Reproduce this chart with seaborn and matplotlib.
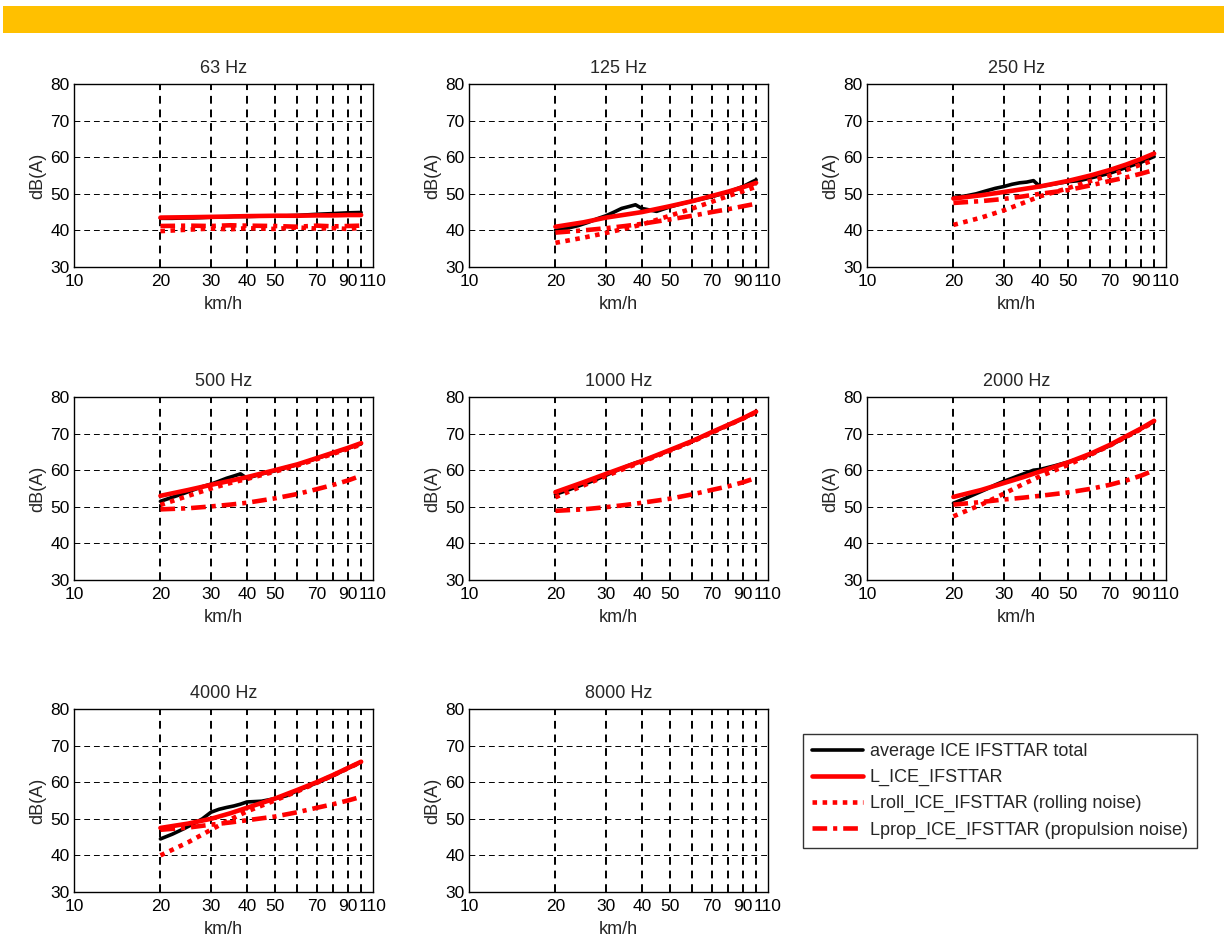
import numpy as np
import pandas as pd
import matplotlib
matplotlib.use("Agg")
import matplotlib.pyplot as plt
from matplotlib.patches import Rectangle
from matplotlib.ticker import FixedLocator, NullFormatter
import seaborn as sns

# ---------------- data ----------------
freq_labels = ["63 Hz", "125 Hz", "250 Hz", "500 Hz", "1000 Hz", "2000 Hz", "4000 Hz", "8000 Hz"]

speeds_model = [20, 25, 30, 35, 40, 50, 60, 70, 80, 90, 100]
speeds_meas = [20, 22, 24, 26, 28, 30, 32, 34, 36, 38, 40, 45, 50, 55, 60, 70, 80, 90, 100]

series_names = ["average ICE IFSTTAR total", "L_ICE_IFSTTAR",
                "Lroll_ICE_IFSTTAR (rolling noise)", "Lprop_ICE_IFSTTAR (propulsion noise)"]

meas_63 = [43.3, 43.3, 43.4, 43.4, 43.5, 43.6, 43.7, 43.7, 43.8, 43.8, 43.8, 43.9, 44.0, 44.0, 44.1, 44.4, 44.6, 44.8, 44.9]
L_63 = [43.5, 43.6, 43.7, 43.8, 43.9, 44.0, 44.0, 44.1, 44.1, 44.2, 44.2]
roll_63 = [39.8, 40.2, 40.5, 40.3, 40.6, 40.4, 40.8, 40.5, 40.6, 40.4, 40.7]
prop_63 = [41.2, 41.3, 41.2, 41.4, 41.3, 41.2, 41.0, 41.3, 41.1, 41.2, 41.3]

meas_125 = [40.0, 40.6, 41.3, 42.2, 43.2, 44.0, 45.0, 46.0, 46.5, 47.0, 46.0, 45.2, 46.4, 47.3, 48.0, 49.2, 50.5, 52.0, 53.8]
L_125 = [41.0, 42.2, 43.5, 44.3, 45.0, 46.6, 48.0, 49.4, 50.6, 51.8, 53.0]
roll_125 = [36.6, 38.0, 39.3, 40.5, 41.6, 44.0, 46.0, 47.8, 49.4, 50.7, 51.9]
prop_125 = [39.4, 40.0, 40.6, 41.2, 41.8, 43.0, 44.0, 45.0, 45.8, 46.6, 47.3]

meas_250 = [49.0, 49.4, 50.0, 50.8, 51.5, 52.0, 52.6, 53.0, 53.2, 53.6, 52.0, 52.7, 53.3, 53.6, 54.3, 55.6, 57.2, 58.6, 60.2]
L_250 = [48.7, 49.6, 50.5, 51.3, 52.0, 53.5, 55.0, 56.5, 58.0, 59.5, 61.0]
roll_250 = [41.5, 43.5, 45.5, 47.5, 49.3, 51.5, 53.5, 55.0, 56.5, 58.0, 59.2]
prop_250 = [47.5, 48.0, 48.6, 49.3, 50.0, 51.0, 52.3, 53.5, 54.5, 55.5, 56.5]

meas_500 = [51.5, 52.6, 53.6, 54.6, 55.5, 56.2, 57.0, 57.8, 58.4, 59.0, 57.8, 59.0, 59.8, 60.8, 61.5, 63.2, 64.7, 66.0, 67.2]
L_500 = [53.0, 54.6, 56.0, 57.1, 58.1, 60.0, 61.6, 63.3, 64.8, 66.1, 67.4]
roll_500 = [50.5, 53.0, 55.0, 56.5, 57.6, 59.6, 61.3, 63.0, 64.5, 65.8, 67.0]
prop_500 = [49.3, 49.6, 50.1, 50.6, 51.1, 52.3, 53.5, 54.8, 56.0, 57.2, 58.5]

meas_1000 = [53.4, 54.5, 55.6, 56.6, 57.6, 58.6, 59.6, 60.5, 61.3, 62.0, 62.5, 64.0, 65.4, 66.7, 67.9, 70.3, 72.3, 74.1, 75.9]
L_1000 = [54.0, 56.7, 59.0, 60.9, 62.5, 65.5, 68.0, 70.4, 72.4, 74.2, 76.0]
roll_1000 = [52.6, 55.8, 58.4, 60.5, 62.2, 65.3, 67.8, 70.2, 72.3, 74.1, 75.8]
prop_1000 = [48.9, 49.3, 49.9, 50.5, 51.1, 52.2, 53.4, 54.6, 55.6, 56.7, 57.9]

meas_2000 = [51.0, 52.3, 53.6, 54.8, 56.0, 57.0, 57.8, 58.6, 59.3, 60.0, 60.2, 61.2, 62.2, 63.2, 64.3, 66.7, 69.1, 71.3, 73.3]
L_2000 = [52.7, 54.6, 56.5, 58.1, 59.6, 62.1, 64.5, 66.9, 69.3, 71.4, 73.5]
roll_2000 = [47.4, 50.6, 53.6, 56.2, 58.3, 61.4, 64.2, 66.7, 69.1, 71.2, 73.2]
prop_2000 = [50.6, 51.3, 52.0, 52.5, 53.0, 53.9, 54.9, 56.0, 57.2, 58.5, 60.0]

meas_4000 = [44.5, 45.8, 47.2, 48.6, 50.0, 51.8, 52.6, 53.1, 53.5, 54.0, 54.6, 54.8, 55.5, 56.3, 57.7, 59.8, 61.8, 63.8, 65.5]
L_4000 = [47.5, 48.7, 50.0, 51.5, 53.0, 55.5, 57.9, 60.0, 62.0, 63.9, 65.6]
roll_4000 = [40.0, 43.6, 47.0, 49.8, 52.0, 55.0, 57.5, 59.8, 61.9, 63.8, 65.5]
prop_4000 = [47.0, 47.6, 48.4, 49.0, 49.6, 50.6, 51.8, 53.0, 54.0, 55.0, 56.0]

meas_8000 = []
L_8000 = []
roll_8000 = []
prop_8000 = []

panels = [
    (meas_63, L_63, roll_63, prop_63),
    (meas_125, L_125, roll_125, prop_125),
    (meas_250, L_250, roll_250, prop_250),
    (meas_500, L_500, roll_500, prop_500),
    (meas_1000, L_1000, roll_1000, prop_1000),
    (meas_2000, L_2000, roll_2000, prop_2000),
    (meas_4000, L_4000, roll_4000, prop_4000),
    (meas_8000, L_8000, roll_8000, prop_8000),
]

xtick_values = [10, 20, 30, 40, 50, 70, 90, 110]
xgrid_values = [20, 30, 40, 50, 60, 70, 80, 90, 100]
ytick_values = [30, 40, 50, 60, 70, 80]

# ---------------- style ----------------
sns.set_style("white")
plt.rcParams["font.family"] = ["Liberation Sans", "DejaVu Sans"]

FS = 13
TICK_FS = 12.5

W, H = 1224, 940
fig = plt.figure(figsize=(W / 100, H / 100), dpi=100)

# orange banner
fig.add_artist(Rectangle((3 / W, 1 - 33 / H), 1 - 3 / W, 27 / H,
                         transform=fig.transFigure, facecolor="#FFC000",
                         edgecolor="none"))

col_left = [74, 469, 867]
col_width = 299
row_top = [84, 397, 709]
row_height = 183

styles = [
    dict(color="black", lw=2.6, linestyle="-"),
    dict(color="#FF0000", lw=3.3, linestyle="-"),
    dict(color="#FF0000", lw=3.3, linestyle=(0, (1.0, 1.2))),
    dict(color="#FF0000", lw=3.3, linestyle=(0, (3.2, 1.3, 0.9, 1.3))),
]

handles = None
for i, (title, data) in enumerate(zip(freq_labels, panels)):
    r, c = divmod(i, 3)
    left = col_left[c] / W
    bottom = 1 - (row_top[r] + row_height) / H
    ax = fig.add_axes([left, bottom, col_width / W, row_height / H])

    meas, L, roll, prop = data
    if len(meas):
        sns.lineplot(x=speeds_meas, y=meas, ax=ax, label=series_names[0], **styles[0])
        sns.lineplot(x=speeds_model, y=roll, ax=ax, label=series_names[2], **styles[2])
        sns.lineplot(x=speeds_model, y=prop, ax=ax, label=series_names[3], **styles[3])
        sns.lineplot(x=speeds_model, y=L, ax=ax, label=series_names[1], **styles[1])
        h, l = ax.get_legend_handles_labels()
        if handles is None:
            order = [l.index(n) for n in series_names]
            handles = [h[k] for k in order]
        if ax.get_legend() is not None:
            ax.get_legend().remove()

    ax.set_xscale("log")
    ax.set_xlim(10, 110)
    ax.set_ylim(30, 80)
    ax.xaxis.remove_overlapping_locs = False
    ax.xaxis.set_major_locator(FixedLocator(xtick_values))
    ax.set_xticklabels([str(v) for v in xtick_values])
    ax.xaxis.set_minor_locator(FixedLocator(xgrid_values))
    ax.xaxis.set_minor_formatter(NullFormatter())
    ax.set_yticks(ytick_values)
    ax.tick_params(axis="both", which="major", direction="in", length=3,
                   width=0.8, labelsize=TICK_FS, colors="black")
    ax.tick_params(axis="x", which="major", pad=5)
    ax.tick_params(axis="y", which="major", pad=3)
    ax.tick_params(axis="x", which="minor", length=0)
    ax.grid(False)
    ax.grid(True, axis="x", which="minor", color="black", lw=1.4,
            linestyle=(0, (4, 3)))
    ax.grid(True, axis="y", which="major", color="black", lw=0.7,
            linestyle=(0, (6, 4)))
    ax.set_axisbelow(True)
    for s in ax.spines.values():
        s.set_color("black")
        s.set_linewidth(1.0)
    ax.set_title(title, fontsize=FS, pad=8)
    ax.set_xlabel("km/h", fontsize=FS, labelpad=5)
    ax.set_ylabel("dB(A)", fontsize=FS, labelpad=3)

# legend in the ninth cell
leg = fig.legend(handles, series_names, loc="upper left",
                 bbox_to_anchor=(803 / W, 1 - 734 / H),
                 frameon=True, fancybox=False, edgecolor="black",
                 fontsize=FS, handlelength=2.8, handletextpad=0.4,
                 labelspacing=0.5, borderpad=0.5, borderaxespad=0)
leg.get_frame().set_linewidth(1.0)

fig.savefig("out.png", dpi=100, facecolor="white")
